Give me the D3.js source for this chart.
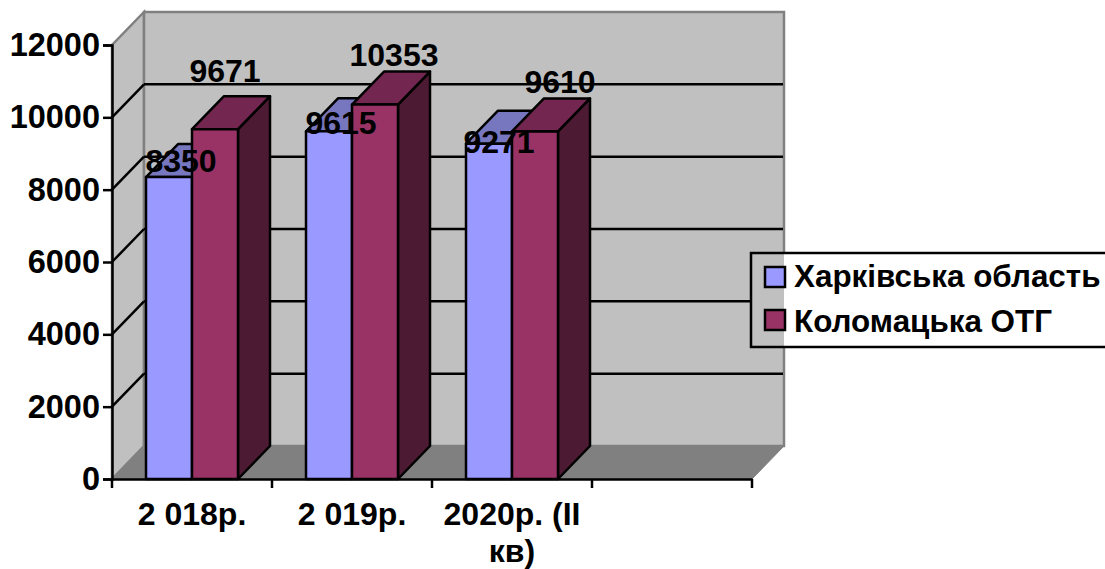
<!DOCTYPE html>
<html>
<head>
<meta charset="utf-8">
<script src="https://cdn.jsdelivr.net/npm/d3@7"></script>
<style>
  html, body { margin: 0; padding: 0; background: #fff; overflow: hidden; }
  text { font-family: "Liberation Sans", Arial, sans-serif; font-weight: bold; fill: #000; }
</style>
</head>
<body>
<div id="chart"></div>
<script>
const categories = ['2 018р.', '2 019р.', '2020р. (II кв)', ''];
const seriesNames = ['Харківська область', 'Коломацька ОТГ'];
const kharkiv = [8350, 9615, 9271];
const kolomak = [9671, 10353, 9610];
const yTicks = [0, 2000, 4000, 6000, 8000, 10000, 12000];

// colours: front, top, side
const colors = [
  ['#9999ff', '#7777bf', '#4d4d80'],
  ['#993366', '#732650', '#4d1a33']
];

// data labels were dragged by hand in the original, offset from the bar's front top centre
const labelOffsets = [
  [[12, -5], [12, 3], [10, 9]],
  [[10, -47], [19, -39], [25, -38]]
];

const width = 1105, height = 569;
const plotLeft = 112, plotRight = 752, plotBottom = 479, plotTop = 45;
const depthX = 32, depthY = 33; // 3D depth

const svg = d3.select('#chart').append('svg')
  .attr('width', width).attr('height', height)
  .style('display', 'block');

const x = d3.scaleBand().domain(categories).range([plotLeft, plotRight]);
const barX = d3.scaleBand().domain([0, 1]).range([34, 126]);
const y = d3.scaleLinear().domain([0, 12000]).range([plotBottom, plotTop]);

const poly = pts => pts.map(p => p.join(',')).join(' ');

// ===== walls
svg.append('polygon')
  .attr('points', poly([[plotLeft, y(0)], [plotLeft + depthX, y(0) - depthY], [plotLeft + depthX, y(12000) - depthY], [plotLeft, y(12000)]]))
  .attr('fill', '#c0c0c0').attr('stroke', '#808080').attr('stroke-width', 2.5);
svg.append('rect')
  .attr('x', plotLeft + depthX).attr('y', y(12000) - depthY)
  .attr('width', plotRight - plotLeft).attr('height', y(0) - y(12000))
  .attr('fill', '#c0c0c0').attr('stroke', '#808080').attr('stroke-width', 2.5);
svg.append('polygon')
  .attr('points', poly([[plotLeft, y(0)], [plotRight, y(0)], [plotRight + depthX, y(0) - depthY], [plotLeft + depthX, y(0) - depthY]]))
  .attr('fill', '#808080').attr('stroke', '#808080').attr('stroke-width', 1);

// ===== gridlines
const gridVals = yTicks.filter(v => v > 0 && v < 12000);
svg.append('g').selectAll('line.back').data(gridVals).join('line')
  .attr('x1', plotLeft + depthX).attr('x2', plotRight + depthX - 1)
  .attr('y1', d => y(d) - depthY).attr('y2', d => y(d) - depthY)
  .attr('stroke', '#000').attr('stroke-width', 2.5);
svg.append('g').selectAll('line.side').data(gridVals).join('line')
  .attr('x1', plotLeft).attr('x2', plotLeft + depthX)
  .attr('y1', d => y(d)).attr('y2', d => y(d) - depthY)
  .attr('stroke', '#000').attr('stroke-width', 2.5);

// ===== bars
const bars = svg.append('g').attr('stroke', '#000').attr('stroke-width', 2.5).attr('stroke-linejoin', 'round');
[kharkiv, kolomak].forEach((values, s) => {
  values.forEach((v, i) => {
    const x0 = x(categories[i]) + barX(s), x1 = x0 + barX.bandwidth();
    const yt = y(v), yb = y(0);
    bars.append('polygon').attr('fill', colors[s][2])
      .attr('points', poly([[x1, yb], [x1 + depthX, yb - depthY], [x1 + depthX, yt - depthY], [x1, yt]]));
    bars.append('polygon').attr('fill', colors[s][1])
      .attr('points', poly([[x0, yt], [x0 + depthX, yt - depthY], [x1 + depthX, yt - depthY], [x1, yt]]));
    bars.append('rect').attr('fill', colors[s][0])
      .attr('x', x0).attr('y', yt).attr('width', x1 - x0).attr('height', yb - yt);
  });
});

// ===== axes
const yAxis = svg.append('g').attr('transform', `translate(${plotLeft},0)`)
  .call(d3.axisLeft(y).tickValues(yTicks).tickFormat(d3.format('d')).tickSize(9).tickPadding(3));
yAxis.selectAll('path,line').attr('stroke', '#000').attr('stroke-width', 2.5);
yAxis.attr('font-family', null).attr('font-size', null);
yAxis.selectAll('text').style('font-size', '32.5px');

const xAxis = svg.append('g').attr('transform', `translate(0,${plotBottom})`)
  .call(d3.axisBottom(x).tickSize(0).tickPadding(0));
xAxis.select('.domain').attr('stroke', '#000').attr('stroke-width', 2.5);
xAxis.attr('font-family', null).attr('font-size', null);
xAxis.selectAll('text').style('font-size', '32px').call(wrap, x.bandwidth());

// tick marks sit on the band edges
svg.append('g').selectAll('line').data(d3.range(categories.length + 1)).join('line')
  .attr('x1', d => plotLeft + d * x.bandwidth()).attr('x2', d => plotLeft + d * x.bandwidth())
  .attr('y1', plotBottom).attr('y2', plotBottom + 9)
  .attr('stroke', '#000').attr('stroke-width', 2.5);

function wrap(sel, w) {
  sel.each(function () {
    const t = d3.select(this);
    const words = t.text().split(' ');
    t.text(null).attr('y', 0).attr('dy', null);
    let line = [], ts = t.append('tspan').attr('x', 0).attr('y', 46), n = 0;
    words.forEach(word => {
      line.push(word);
      ts.text(line.join(' '));
      if (ts.node().getComputedTextLength() > w && line.length > 1) {
        line.pop();
        ts.text(line.join(' '));
        line = [word];
        n += 1;
        ts = t.append('tspan').attr('x', 0).attr('y', 46 + n * 37).text(word);
      }
    });
  });
}

// ===== data labels
[kharkiv, kolomak].forEach((values, s) => {
  svg.append('g').selectAll('text').data(values).join('text')
    .attr('x', (d, i) => x(categories[i]) + barX(s) + barX.bandwidth() / 2 + labelOffsets[s][i][0])
    .attr('y', (d, i) => y(d) + labelOffsets[s][i][1])
    .attr('text-anchor', 'middle')
    .style('font-size', '32px')
    .text(d => d);
});

// ===== legend
const legend = svg.append('g');
legend.append('rect').attr('x', 751).attr('y', 253).attr('width', 370).attr('height', 94)
  .attr('fill', '#fff').attr('stroke', 'none');
legend.append('rect').attr('x', 751).attr('y', 253).attr('width', 33).attr('height', 94)
  .attr('fill', '#c0c0c0');
legend.append('rect').attr('x', 751).attr('y', 253).attr('width', 370).attr('height', 94)
  .attr('fill', 'none').attr('stroke', '#000').attr('stroke-width', 2.5);
const items = legend.selectAll('g').data(seriesNames).join('g')
  .attr('transform', (d, i) => `translate(765,${267 + i * 43})`);
items.append('rect').attr('width', 20).attr('height', 20)
  .attr('fill', (d, i) => colors[i][0]).attr('stroke', '#000').attr('stroke-width', 2.5);
items.append('text').attr('x', 29).attr('y', (d, i) => 20 + i * 2).style('font-size', '31.4px').text(d => d);
</script>
</body>
</html>
